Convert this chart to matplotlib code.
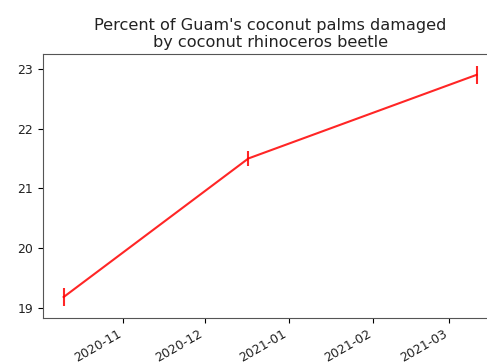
import matplotlib
matplotlib.use("Agg")
import matplotlib.pyplot as plt
import matplotlib.dates as mdates
import numpy as np
import datetime as dt

dates = [dt.date(2020, 10, 10), dt.date(2020, 12, 17), dt.date(2021, 3, 11)]
percent = [19.18, 21.5, 22.9]
errors = [0.15, 0.13, 0.15]

fig, ax = plt.subplots(figsize=(4.87, 3.64), dpi=100)
ax.errorbar(dates, percent, yerr=errors, color='red', alpha=0.85, linewidth=1.5)
ax.set_title("Percent of Guam's coconut palms damaged\nby coconut rhinoceros beetle",
             fontsize=11.6, color='#222222', pad=5)
ax.xaxis.set_major_locator(mdates.MonthLocator())
ax.xaxis.set_major_formatter(mdates.DateFormatter('%Y-%m'))
ax.set_yticks([19, 20, 21, 22, 23])
ax.tick_params(labelsize=9, labelcolor='#222222')
for s in ax.spines.values():
    s.set_color('#555555')
fig.autofmt_xdate()
for lab in ax.get_xticklabels():
    lab.set_fontsize(9)
fig.subplots_adjust(left=0.0883, right=1.021, top=0.852, bottom=0.1264)
fig.savefig("out.png")
